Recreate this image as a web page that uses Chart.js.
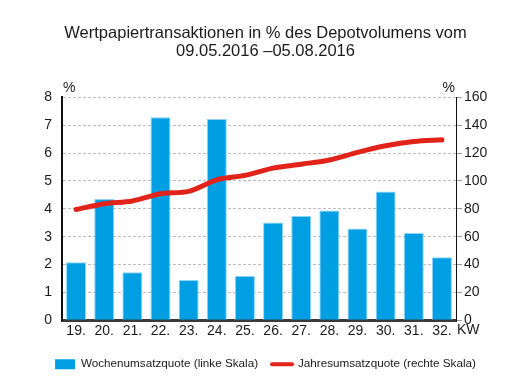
<!DOCTYPE html>
<html>
<head>
<meta charset="utf-8">
<script src="https://cdn.jsdelivr.net/npm/chart.js@4/dist/chart.umd.min.js"></script>
<style>
  html, body { margin: 0; padding: 0; background: #fff; }
  #wrap { width: 531px; height: 384px; }
</style>
</head>
<body>
<div id="wrap"><canvas id="chart" width="531" height="384"></canvas></div>
<script>
// calendar weeks
const weeks = ['19.', '20.', '21.', '22.', '23.', '24.', '25.', '26.', '27.', '28.', '29.', '30.', '31.', '32.'];
// weekly turnover ratio (left scale, %)
const weeklyRatio = [2.08, 4.35, 1.72, 7.28, 1.45, 7.22, 1.59, 3.51, 3.74, 3.94, 3.29, 4.62, 3.13, 2.26];
// annualised turnover ratio (right scale, %)
const annualRatio = [79.5, 83.6, 85.6, 90.8, 92.5, 100.8, 104, 109.2, 112, 115, 120.5, 125.2, 128.3, 129.5];

const seriesNames = ['Wochenumsatzquote (linke Skala)', 'Jahresumsatzquote (rechte Skala)'];
const titleLines = ['Wertpapiertransaktionen in % des Depotvolumens vom', '09.05.2016 \u201305.08.2016'];

const BLUE = '#009fe3';
const RED = '#e2231a';
const TEXT = '#1a1a1a';
const FONT = '"Liberation Sans", Arial, sans-serif';

// "%" above both value axes and "KW" after the week labels
const axisUnits = {
  id: 'axisUnits',
  afterDraw(chart) {
    const ctx = chart.ctx;
    const area = chart.chartArea;
    const x = chart.scales.x;
    ctx.save();
    ctx.fillStyle = TEXT;
    ctx.font = '14px ' + FONT;
    ctx.textBaseline = 'middle';
    ctx.textAlign = 'left';
    ctx.fillText('%', area.left + 1, area.top - 9);
    ctx.textAlign = 'right';
    ctx.fillText('%', area.right - 1, area.top - 9);
    ctx.textAlign = 'left';
    ctx.fillText('KW', area.right + 1, x.top + 10);
    ctx.restore();
  }
};

new Chart(document.getElementById('chart'), {
  data: {
    labels: weeks,
    datasets: [
      {
        type: 'line',
        label: seriesNames[1],
        data: annualRatio,
        yAxisID: 'y1',
        borderColor: RED,
        borderWidth: 5,
        borderCapStyle: 'round',
        pointRadius: 0,
        tension: 0.3,
        order: 0
      },
      {
        type: 'bar',
        label: seriesNames[0],
        data: weeklyRatio,
        yAxisID: 'y',
        backgroundColor: BLUE,
        borderColor: '#8fd3f2',
        borderWidth: { top: 1, left: 1, right: 1, bottom: 0 },
        categoryPercentage: 1,
        barPercentage: 0.71,
        order: 1
      }
    ]
  },
  options: {
    responsive: false,
    animation: false,
    layout: { padding: { left: 0, right: 0, top: 0, bottom: 4 } },
    scales: {
      x: {
        offset: true,
        afterFit(s) { s.height = 24; },
        grid: { display: false, drawTicks: false },
        border: { display: true, color: '#3a3a3a', width: 3 },
        ticks: { color: TEXT, font: { family: FONT, size: 14 }, padding: 2, maxRotation: 0 }
      },
      y: {
        position: 'left',
        min: 0,
        max: 8,
        afterFit(s) { s.width = 62; },
        ticks: { stepSize: 1, color: TEXT, font: { family: FONT, size: 14 }, padding: 10 },
        grid: { color: '#bcbcbc', lineWidth: 1, drawTicks: false },
        border: { display: true, color: '#111', width: 2, dash: [3, 2] }
      },
      y1: {
        position: 'right',
        min: 0,
        max: 160,
        afterFit(s) { s.width = 75; },
        ticks: { stepSize: 20, color: TEXT, font: { family: FONT, size: 14 }, padding: 2 },
        grid: { drawOnChartArea: false, tickLength: 6, color: '#9a9a9a' },
        border: { display: true, color: '#111', width: 1 }
      }
    },
    plugins: {
      title: {
        display: true,
        text: titleLines,
        color: TEXT,
        font: { family: FONT, size: 16.5, weight: 'normal', lineHeight: 1.1 },
        padding: { top: 24, bottom: 37 }
      },
      legend: {
        position: 'bottom',
        labels: {
          color: TEXT,
          font: { family: FONT, size: 11.7 },
          usePointStyle: true,
          pointStyleWidth: 20,
          boxHeight: 10,
          padding: 14,
          generateLabels() {
            return [
              { text: seriesNames[0], fillStyle: BLUE, strokeStyle: BLUE, lineWidth: 0, pointStyle: 'rect', datasetIndex: 1, fontColor: TEXT },
              { text: seriesNames[1], fillStyle: RED, strokeStyle: RED, lineWidth: 4, lineCap: 'round', pointStyle: 'line', datasetIndex: 0, fontColor: TEXT }
            ];
          }
        }
      },
      tooltip: { enabled: false }
    }
  },
  plugins: [axisUnits]
});
</script>
</body>
</html>
